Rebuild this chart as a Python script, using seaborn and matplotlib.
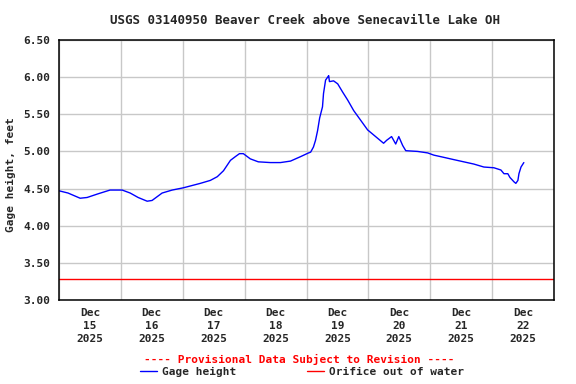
import pandas as pd, numpy as np
import matplotlib
matplotlib.use("Agg")
import matplotlib.pyplot as plt
import matplotlib.dates as mdates
from matplotlib.lines import Line2D
import seaborn as sns

# hours after 2025-12-15 00:00 and gage height (ft)
hours = [0, 3.5, 8.2, 10.9, 15.2, 19.8, 24.5, 27.6, 30.7, 34.2, 36.1, 40.0, 43.9,
         48.2, 54.8, 58.7, 61.4, 63.8, 66.5, 68.4, 70.0, 71.5, 74.2, 77.3, 82.0,
         85.9, 89.8, 93.7, 96.8, 97.6, 98.7, 99.5, 100.3, 101.1, 102.2, 102.6,
         103.4, 104.2, 104.6, 104.9, 106.5, 108.1, 110.0, 112.0, 114.3, 117.0,
         119.7, 122.8, 125.9, 127.1, 129.0, 130.6, 131.8, 133.3, 134.5, 139.1,
         143.0, 145.4, 149.3, 153.1, 157.0, 160.9, 164.8, 168.7, 171.4, 172.6,
         174.1, 174.9, 176.5, 177.2, 178.0, 178.4, 179.2, 180.3]
height = [4.47, 4.44, 4.37, 4.38, 4.43, 4.48, 4.48, 4.44, 4.38, 4.33, 4.34, 4.44, 4.48,
          4.51, 4.57, 4.61, 4.66, 4.74, 4.88, 4.93, 4.97, 4.97, 4.90, 4.86, 4.85,
          4.85, 4.87, 4.93, 4.98, 4.99, 5.06, 5.15, 5.28, 5.45, 5.60, 5.78,
          5.96, 6.00, 6.02, 5.94, 5.95, 5.91, 5.80, 5.69, 5.55, 5.42,
          5.29, 5.20, 5.11, 5.15, 5.20, 5.10, 5.20, 5.08, 5.01, 5.00,
          4.98, 4.95, 4.92, 4.89, 4.86, 4.83, 4.79, 4.78, 4.75, 4.70,
          4.70, 4.65, 4.59, 4.57, 4.61, 4.70, 4.79, 4.85]
orifice_level = 3.28

start = pd.Timestamp("2025-12-15")
end = pd.Timestamp("2025-12-23")
df = pd.DataFrame({"time": start + pd.to_timedelta(hours, unit="h"), "gage": height})

sns.set_style("white")
plt.rcParams["font.family"] = ["DejaVu Sans Mono"]
plt.rcParams["font.weight"] = "bold"

fig = plt.figure(figsize=(5.76, 3.84), dpi=100)
ax = fig.add_axes([59/576, 1-300/384, 495/576, 260/384])

sns.lineplot(data=df, x="time", y="gage", color="blue", lw=1.0, ax=ax)
ax.axhline(orifice_level, color="red", lw=1.0)

ax.set_xlim(start, end)
ax.set_ylim(3.0, 6.5)
ax.set_yticks(np.arange(3.0, 6.51, 0.5))
ax.set_yticklabels([f"{v:.2f}" for v in np.arange(3.0, 6.51, 0.5)], fontsize=8, fontweight="bold")

ax.xaxis.set_major_locator(mdates.DayLocator())
ax.xaxis.set_major_formatter(plt.NullFormatter())
ax.xaxis.set_minor_locator(mdates.HourLocator(byhour=[12]))
ax.xaxis.set_minor_formatter(mdates.DateFormatter("%b\n%d\n%Y"))
ax.tick_params(axis="x", which="both", length=0, pad=6)
ax.tick_params(axis="x", which="minor", labelsize=8)
ax.tick_params(axis="y", length=0, pad=6)
for t in ax.get_xticklabels(minor=True):
    t.set_fontweight("bold")
    t.set_linespacing(1.35)

ax.grid(True, which="major", color="#c8c8c8", lw=1.0)
ax.set_axisbelow(True)
for s in ax.spines.values():
    s.set_color("black"); s.set_linewidth(1.1)
ax.set_xlabel(""); ax.set_ylabel("")

fig.text(305/576, 1-20/384, "USGS 03140950 Beaver Creek above Senecaville Lake OH",
         ha="center", va="center", fontsize=9, fontweight="bold")
fig.text(11/576, 1-175/384, "Gage height, feet", rotation=90,
         ha="center", va="center", fontsize=8, fontweight="bold")
fig.text(299/576, 1-359/384, "---- Provisional Data Subject to Revision ----",
         ha="center", va="center", fontsize=8, fontweight="bold", color="red")

handles = [Line2D([], [], color="blue", lw=1.0), Line2D([], [], color="red", lw=1.0)]
fig.legend(handles, ["Gage height", "Orifice out of water"], loc="center",
           bbox_to_anchor=(302/576, 1-372/384), ncol=2, frameon=False,
           prop={"size": 8, "weight": "bold"}, handlelength=1.6,
           handletextpad=0.45, columnspacing=6.3, borderpad=0, borderaxespad=0)

fig.savefig("out.png", dpi=100)
